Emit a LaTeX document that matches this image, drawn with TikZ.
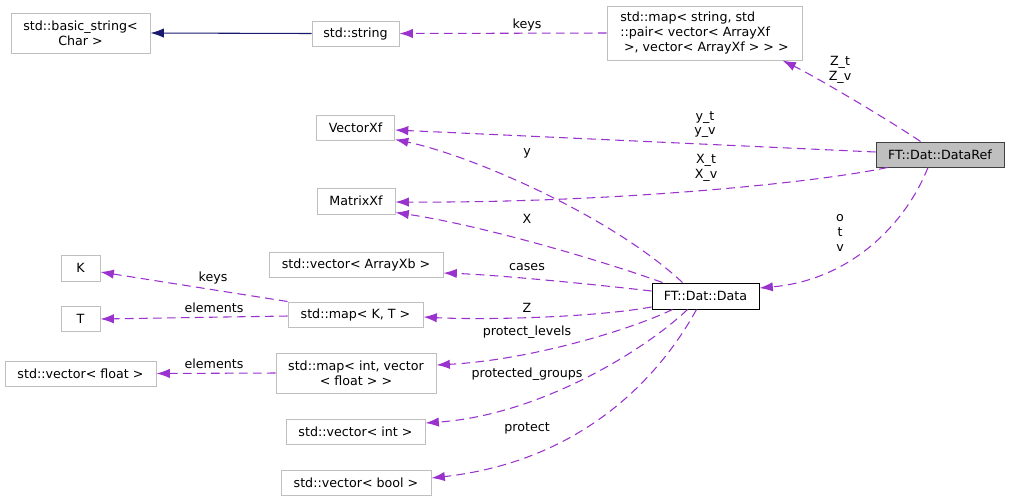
\documentclass[tikz,border=0pt]{standalone}
\usepackage{fontspec}
\setmainfont{DejaVu Sans}
\usetikzlibrary{arrows.meta,calc}
\definecolor{edgep}{HTML}{9A32CD}
\definecolor{boxg}{HTML}{BFBFBF}
\definecolor{navyb}{HTML}{191970}
\definecolor{darkb}{HTML}{404040}
\begin{document}
\begin{tikzpicture}[x=0.75pt,y=-0.75pt,
  txt/.style={font=\fontsize{9.5}{11}\selectfont},
  box/.style={txt,draw=boxg,line width=0.75pt,fill=white,inner sep=0pt,align=center},
  wh/.style 2 args={minimum width=#1*0.75pt,minimum height=#2*0.75pt},
  dep/.style={draw=edgep,line width=0.8pt,dash pattern=on 6.5pt off 4pt,-{Latex[length=10pt,width=7pt]}},
  inh/.style={draw=navyb,line width=0.8pt,-{Latex[length=10pt,width=7pt]}},
  lbl/.style={txt,align=center,inner sep=0pt}]
\useasboundingbox (0,0) rectangle (1009,501);
% nodes
\node[box,wh={139}{40}] (bstr) at (80.5,33) {std::basic\_string<\\Char >};
\node[box,wh={87}{25}] (str) at (355.5,33.5) {std::string};
\node[box,wh={195}{54},align=left] (mapstr) at (704.5,33) {std::map< string, std\\::pair< vector< ArrayXf\\\hspace*{0.3em}>, vector< ArrayXf > > >};
\node[box,wh={78}{25}] (vecxf) at (355.5,127.5) {VectorXf};
\node[box,wh={78}{26}] (matxf) at (356,201) {MatrixXf};
\node[box,wh={128}{25},fill=boxg,draw=darkb] (dataref) at (940,154.5) {FT::Dat::DataRef};
\node[box,wh={107}{26},draw=black] (data) at (705.5,296) {FT::Dat::Data};
\node[box,wh={174}{25}] (vab) at (356,264.5) {std::vector< ArrayXb >};
\node[box,wh={39}{26}] (K) at (80.5,268) {K};
\node[box,wh={39}{25}] (T) at (80.5,318.5) {T};
\node[box,wh={135}{25}] (mapkt) at (355.5,314.5) {std::map< K, T >};
\node[box,wh={151}{25}] (vfloat) at (80.5,373.5) {std::vector< float >};
\node[box,wh={160}{40}] (mapint) at (356,373) {std::map< int, vector\\< float > >};
\node[box,wh={139}{25}] (vint) at (355.5,431.5) {std::vector< int >};
\node[box,wh={150}{25}] (vbool) at (356,482.5) {std::vector< bool >};
% edges
\draw[inh] (str.west) -- (bstr.east);
\draw[dep] (mapstr.west) -- (str.east);
\draw[dep] ($(dataref.north west)+(45,0)$) .. controls (895,124) and (820,79) .. ($(mapstr.south west)+(176,0)$);
\draw[dep] ($(dataref.west)+(0,-2.5)$) -- ($(vecxf.east)+(0,2.5)$);
\draw[dep] ($(dataref.south west)+(12,0)$) .. controls (820,182) and (620,203) .. ($(matxf.east)+(0,1)$);
\draw[dep] ($(dataref.south)+(-12,0)$) .. controls (905,225) and (850,280) .. ($(data.east)+(0,-8)$);
\draw[dep] ($(data.north west)+(31,0)$) .. controls (610,215) and (470,155) .. ($(vecxf.south east)+(0,-1)$);
\draw[dep] ($(data.north west)+(11,0)$) .. controls (600,260) and (480,225) .. ($(matxf.south east)+(0,-2)$);
\draw[dep] ($(data.west)+(0,-5)$) .. controls (600,285) and (500,275) .. ($(vab.east)+(0,8.5)$);
\draw[dep] ($(data.west)+(0,11)$) .. controls (590,318) and (480,320) .. ($(mapkt.east)+(0,2.5)$);
\draw[dep] ($(data.south west)+(21,0)$) .. controls (630,330) and (530,360) .. ($(mapint.east)+(0,-8)$);
\draw[dep] ($(data.south west)+(36,0)$) .. controls (645,350) and (540,415) .. ($(vint.east)+(0,-8.5)$);
\draw[dep] ($(data.south west)+(45,0)$) .. controls (655,385) and (575,462) .. ($(vbool.east)+(0,-4.5)$);
\draw[dep] (mapkt.north west) -- ($(K.east)+(0,4)$);
\draw[dep] ($(mapkt.west)+(0,1.5)$) -- ($(T.east)+(0,0.5)$);
\draw[dep] (mapint.west) -- (vfloat.east);
% labels
\node[lbl] (l1) at (527,25) {keys};
\node[lbl] (l2) at (840,70) {Z\_t\\Z\_v};
\node[lbl] (l3) at (705,124.5) {y\_t\\y\_v};
\node[lbl] (l4) at (706,168) {X\_t\\X\_v};
\node[lbl] (l5) at (840,233) {o\\t\\v};
\node[lbl] (l6) at (527,153) {y};
\node[lbl] (l7) at (527,219) {X};
\node[lbl] (l8) at (527,267) {cases};
\node[lbl] (l9) at (527,308) {Z};
\node[lbl] (l10) at (527,332) {protect\_levels};
\node[lbl] (l11) at (527,374) {protected\_groups};
\node[lbl] (l12) at (527,428) {protect};
\node[lbl] (l13) at (213,278) {keys};
\node[lbl] (l14) at (214,308) {elements};
\node[lbl] (l15) at (214,364) {elements};
\end{tikzpicture}
\end{document}
